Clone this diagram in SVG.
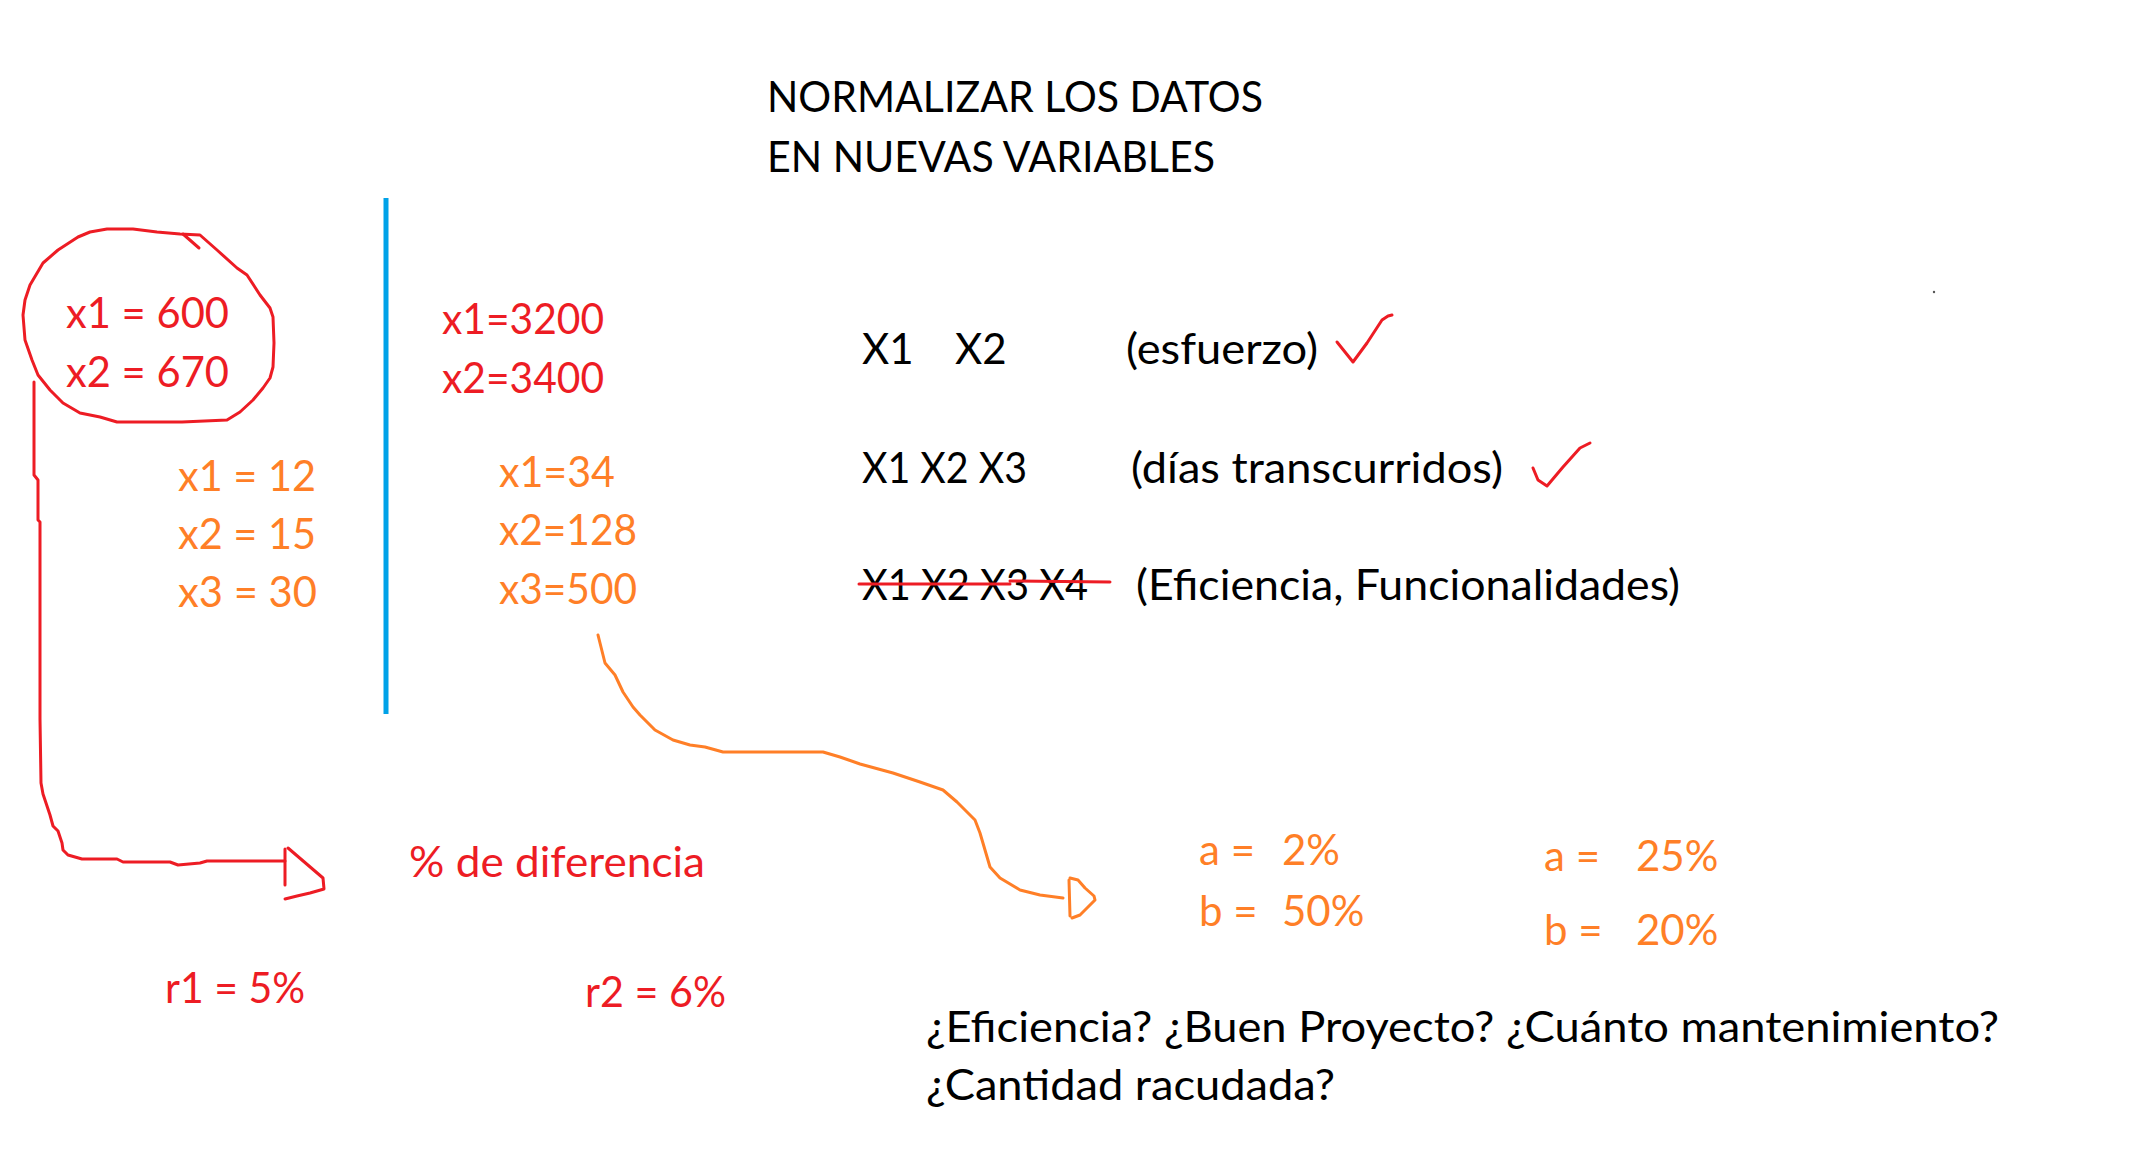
<svg xmlns="http://www.w3.org/2000/svg" width="2129" height="1153" viewBox="0 0 2129 1153">
<style>
  text { font-family: Lato, "Open Sans", "Liberation Sans", sans-serif; font-size: 42px; }
  .k { fill: #000000; }
  .r { fill: #ED1C24; }
  .o { fill: #FF7F27; }
  .rs { fill: none; stroke: #ED1C24; stroke-width: 3; stroke-linejoin: round; stroke-linecap: round; }
  .os { fill: none; stroke: #FF7F27; stroke-width: 3; stroke-linejoin: round; stroke-linecap: round; }
  .bs { fill: none; stroke: #00A2E8; stroke-width: 5; }
</style>
<rect x="0" y="0" width="2129" height="1153" fill="#FFFFFF"/>

<g id="title">
  <text class="k" x="767" y="112" textLength="496" lengthAdjust="spacingAndGlyphs">NORMALIZAR LOS DATOS</text>
  <text class="k" x="767" y="172" textLength="448" lengthAdjust="spacingAndGlyphs">EN NUEVAS VARIABLES</text>
</g>

<g id="circled-values">
  <path class="rs" d="M23,315 L25,300 L30,285 L43,263 L58,250 L78,237 L90,232 L107,229 L133,229 L157,232 L180,234 L200,235 L217,250 L237,268 L247,275 L260,295 L270,308 L273,317 L274,343 L273,367 L270,378 L263,388 L253,400 L240,412 L227,420 L182,422 L117,422 L100,417 L80,413 L63,403 L50,390 L38,375 L32,360 L25,340 Z"/>
  <path class="rs" d="M183,234 L199,248"/>
  <text class="r" x="66" y="328" textLength="163" lengthAdjust="spacingAndGlyphs">x1 = 600</text>
  <text class="r" x="66" y="387" textLength="163" lengthAdjust="spacingAndGlyphs">x2 = 670</text>
</g>

<g id="orange-left">
  <text class="o" x="178" y="491" textLength="138" lengthAdjust="spacingAndGlyphs">x1 = 12</text>
  <text class="o" x="178" y="549" textLength="138" lengthAdjust="spacingAndGlyphs">x2 = 15</text>
  <text class="o" x="178" y="607" textLength="139" lengthAdjust="spacingAndGlyphs">x3 = 30</text>
</g>

<g id="divider">
  <line class="bs" x1="386" y1="198" x2="386" y2="714"/>
</g>

<g id="red-middle">
  <text class="r" x="442" y="334" textLength="162" lengthAdjust="spacingAndGlyphs">x1=3200</text>
  <text class="r" x="442" y="393" textLength="162" lengthAdjust="spacingAndGlyphs">x2=3400</text>
</g>

<g id="orange-middle">
  <text class="o" x="499" y="487" textLength="116" lengthAdjust="spacingAndGlyphs">x1=34</text>
  <text class="o" x="499" y="545" textLength="138" lengthAdjust="spacingAndGlyphs">x2=128</text>
  <text class="o" x="499" y="604" textLength="138" lengthAdjust="spacingAndGlyphs">x3=500</text>
</g>

<g id="row-esfuerzo">
  <text class="k" x="862" y="364">X1<tspan x="955">X2</tspan></text>
  <text class="k" x="1126" y="364" textLength="192" lengthAdjust="spacingAndGlyphs">(esfuerzo)</text>
  <path class="rs" d="M1337,342 L1345,352 L1353,362 L1367,343 L1382,320 L1388,316 L1392,315"/>
</g>

<g id="row-dias">
  <text class="k" x="862" y="483" textLength="165" lengthAdjust="spacingAndGlyphs">X1 X2 X3</text>
  <text class="k" x="1131" y="483" textLength="372" lengthAdjust="spacingAndGlyphs">(días transcurridos)</text>
  <path class="rs" d="M1533,468 L1538,480 L1547,486 L1563,467 L1580,448 L1590,443"/>
</g>

<g id="row-eficiencia">
  <text class="k" x="862" y="600" textLength="226" lengthAdjust="spacingAndGlyphs">X1 X2 X3 X4</text>
  <path class="rs" d="M859,584 L1010,584 M1010,581 L1110,582"/>
  <text class="k" x="1136" y="600" textLength="544" lengthAdjust="spacingAndGlyphs">(Eficiencia, Funcionalidades)</text>
</g>

<g id="diferencia">
  <text class="r" x="409" y="877" textLength="296" lengthAdjust="spacingAndGlyphs">% de diferencia</text>
</g>

<g id="r-values">
  <text class="r" x="165" y="1003" textLength="140" lengthAdjust="spacingAndGlyphs">r1 = 5%</text>
  <text class="r" x="585" y="1007" textLength="141" lengthAdjust="spacingAndGlyphs">r2 = 6%</text>
</g>

<g id="ab-first">
  <text class="o" x="1199" y="865">a = <tspan x="1282">2%</tspan></text>
  <text class="o" x="1199" y="926">b = <tspan x="1282">50%</tspan></text>
</g>

<g id="ab-second">
  <text class="o" x="1544" y="871">a = <tspan x="1636">25%</tspan></text>
  <text class="o" x="1544" y="945">b = <tspan x="1636">20%</tspan></text>
</g>

<g id="questions">
  <text class="k" x="926" y="1042" textLength="1073" lengthAdjust="spacingAndGlyphs">¿Eficiencia? ¿Buen Proyecto? ¿Cuánto mantenimiento?</text>
  <text class="k" x="926" y="1100" textLength="409" lengthAdjust="spacingAndGlyphs">¿Cantidad racudada?</text>
</g>

<g id="connectors">
  <path class="rs" d="M34,382 L34,475 L38,480 L38,520 L40,522 L40,719 L41,783 L43,794 L50,815 L53,826 L58,831 L62,843 L63,850 L68,855 L82,859 L117,859 L123,862 L170,862 L178,865 L200,863 L207,861 L285,861"/>
  <path class="rs" d="M285,849 L285,885 M288,848 L323,878 L324,889 L310,893 L297,896 L285,899"/>
  <path class="os" d="M598,635 L605,663 L615,675 L623,692 L633,707 L640,715 L655,730 L673,740 L690,745 L705,747 L723,752 L823,752 L840,757 L860,764 L893,773 L920,782 L943,790 L957,802 L975,820 L980,833 L985,850 L990,867 L1000,878 L1020,890 L1040,895 L1063,898"/>
  <path class="os" d="M1069,880 L1070,916 M1070,878 L1078,880 L1085,888 L1094,896 L1095,900 L1088,907 L1080,915 L1072,918"/>
</g>

<circle cx="1934" cy="292" r="1.2" fill="#555555"/>
</svg>
